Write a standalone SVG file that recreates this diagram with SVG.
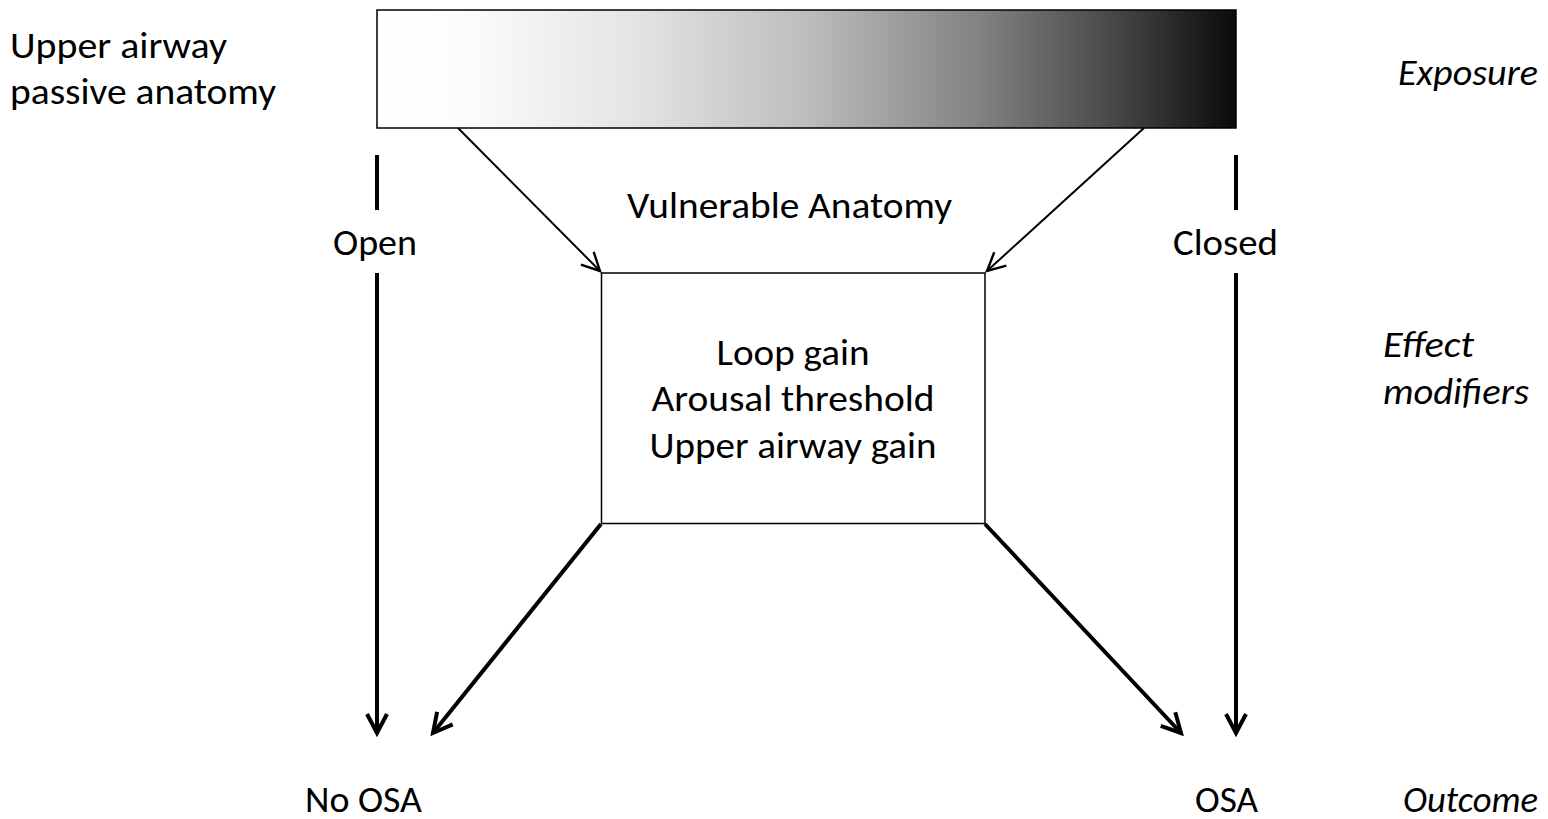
<svg xmlns="http://www.w3.org/2000/svg" width="1548" height="819" viewBox="0 0 1548 819">
  <style>
    .t { font-family: Carlito, Calibri, "Open Sans", "Noto Sans", sans-serif; font-size: 37px; fill: #000; }
    .i { font-style: italic; }
    .c { text-anchor: middle; }
    .thin { stroke: #000; stroke-width: 2; fill: none; }
    .thick { stroke: #000; stroke-width: 4; fill: none; }
    .box { fill: #fff; stroke: #000; stroke-width: 1.5; }
  </style>
  <defs>
    <linearGradient id="shade" x1="0" y1="0" x2="1" y2="0">
      <stop offset="0" stop-color="#ffffff"/>
      <stop offset="0.1" stop-color="#fcfcfc"/>
      <stop offset="0.3" stop-color="#e4e4e4"/>
      <stop offset="0.5" stop-color="#bdbdbd"/>
      <stop offset="0.7" stop-color="#828282"/>
      <stop offset="0.85" stop-color="#4b4b4b"/>
      <stop offset="1" stop-color="#0a0a0a"/>
    </linearGradient>
    <marker id="headThin" markerUnits="userSpaceOnUse" viewBox="-22 -12 26 24" refX="0" refY="0" markerWidth="26" markerHeight="24" orient="auto">
      <path d="M -18 -9 L 0 0 L -18 9" fill="none" stroke="#000" stroke-width="2.4"/>
    </marker>
    <marker id="headThick" markerUnits="userSpaceOnUse" viewBox="-24 -14 28 28" refX="0" refY="0" markerWidth="28" markerHeight="28" orient="auto">
      <path d="M -19 -10 L 0 0 L -19 10" fill="none" stroke="#000" stroke-width="4"/>
    </marker>
  </defs>

  <!-- exposure bar -->
  <g id="exposure-bar">
    <rect x="377" y="10" width="859" height="118" fill="url(#shade)" stroke="#000" stroke-width="1.5"/>
  </g>
  <g id="exposure-label">
    <text class="t" x="10" y="58" textLength="217" lengthAdjust="spacingAndGlyphs">Upper airway</text>
    <text class="t" x="10" y="104" textLength="266" lengthAdjust="spacingAndGlyphs">passive anatomy</text>
  </g>

  <!-- modifiers box -->
  <g id="modifiers">
    <rect class="box" x="601.5" y="273" width="383.5" height="250.5"/>
    <text class="t c" x="793" y="365" textLength="153" lengthAdjust="spacingAndGlyphs">Loop gain</text>
    <text class="t c" x="793" y="411" textLength="283" lengthAdjust="spacingAndGlyphs">Arousal threshold</text>
    <text class="t c" x="793" y="458" textLength="287" lengthAdjust="spacingAndGlyphs">Upper airway gain</text>
  </g>

  <g id="vulnerable">
    <text class="t c" x="789.5" y="218" textLength="325" lengthAdjust="spacingAndGlyphs">Vulnerable Anatomy</text>
  </g>

  <g id="open-label">
    <text class="t c" x="375" y="255" textLength="84" lengthAdjust="spacingAndGlyphs">Open</text>
  </g>
  <g id="closed-label">
    <text class="t c" x="1225.5" y="255" textLength="105" lengthAdjust="spacingAndGlyphs">Closed</text>
  </g>

  <g id="no-osa">
    <text class="t c" x="363.5" y="812" textLength="117" lengthAdjust="spacingAndGlyphs">No OSA</text>
  </g>
  <g id="osa">
    <text class="t c" x="1226.5" y="812" textLength="63" lengthAdjust="spacingAndGlyphs">OSA</text>
  </g>

  <!-- stage labels -->
  <g id="stage-labels">
    <text class="t i" x="1398" y="85" textLength="140" lengthAdjust="spacingAndGlyphs">Exposure</text>
    <text class="t i" x="1383" y="357" textLength="91" lengthAdjust="spacingAndGlyphs">Effect</text>
    <text class="t i" x="1383" y="404" textLength="146" lengthAdjust="spacingAndGlyphs">modifiers</text>
    <text class="t i" x="1403" y="812" textLength="135" lengthAdjust="spacingAndGlyphs">Outcome</text>
  </g>

  <!-- connectors -->
  <g id="connectors">
    <line class="thick" x1="377" y1="155" x2="377" y2="210"/>
    <line class="thick" x1="377" y1="273" x2="377" y2="733" marker-end="url(#headThick)"/>
    <line class="thick" x1="1236" y1="155" x2="1236" y2="210"/>
    <line class="thick" x1="1236" y1="273" x2="1236" y2="733" marker-end="url(#headThick)"/>
    <line class="thin" x1="458" y1="128" x2="600" y2="271" marker-end="url(#headThin)"/>
    <line class="thin" x1="1144" y1="128" x2="987" y2="271" marker-end="url(#headThin)"/>
    <line class="thick" x1="601" y1="524" x2="433" y2="733" marker-end="url(#headThick)"/>
    <line class="thick" x1="985" y1="524" x2="1181" y2="733" marker-end="url(#headThick)"/>
  </g>
</svg>
